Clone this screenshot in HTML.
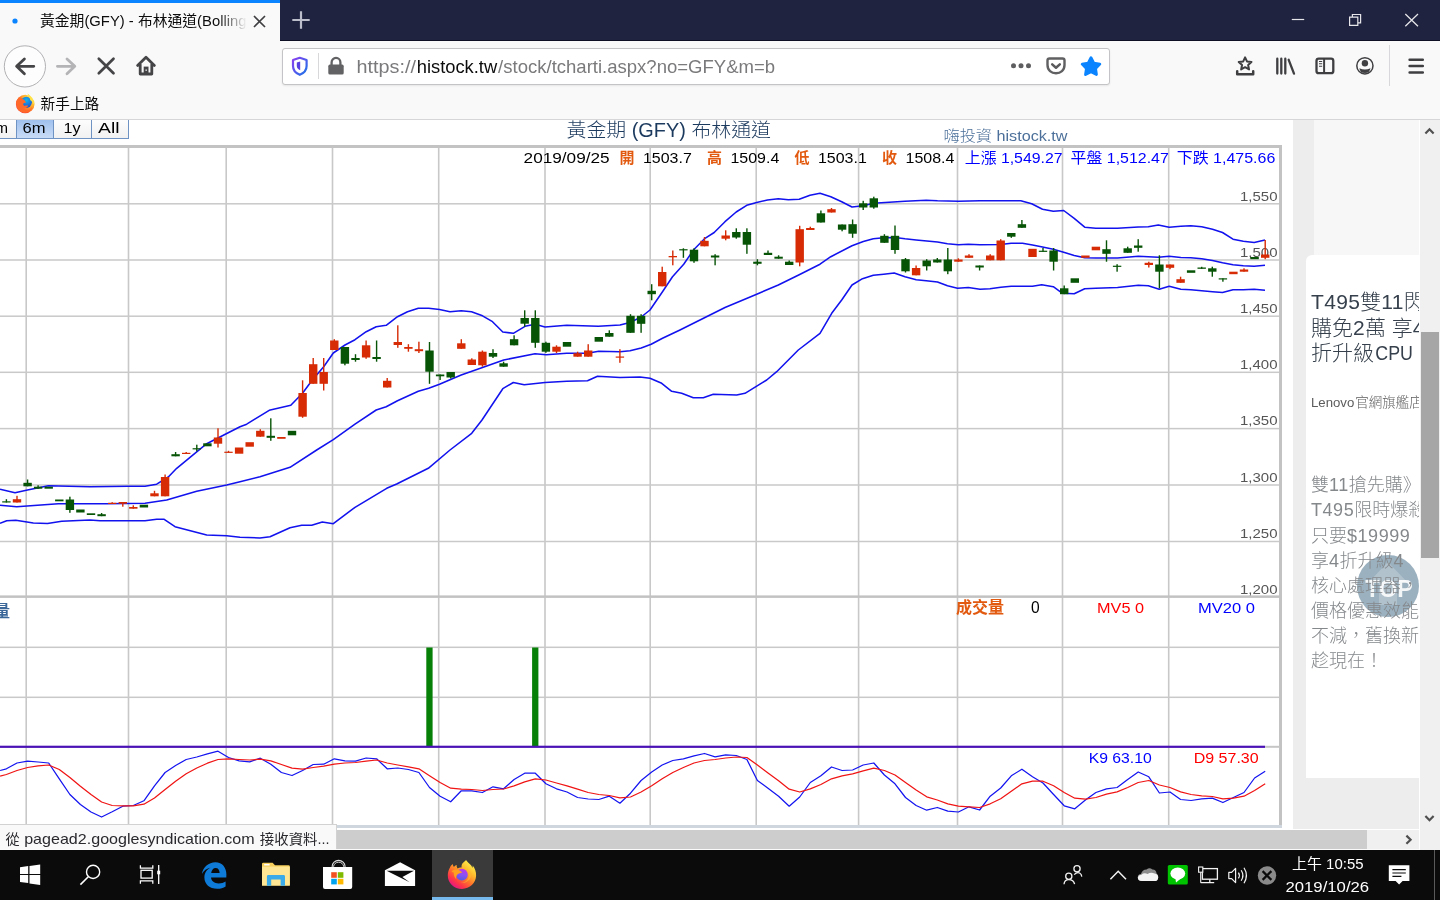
<!DOCTYPE html>
<html lang="zh-Hant">
<head>
<meta charset="utf-8">
<title>黃金期(GFY) - 布林通道(Bollinger Band)</title>
<style>
html,body{margin:0;padding:0;}
body{width:1440px;height:900px;overflow:hidden;position:relative;background:#fff;font-family:"Liberation Sans","Noto Sans CJK TC",sans-serif;}
.abs{position:absolute;}
#tabbar{left:0;top:0;width:1440px;height:41px;background:#20233f;box-shadow:inset 0 -1px 0 #0e0f24;}
#tab{left:0;top:0;width:280px;height:41px;background:#f9f9fa;}
#tabline{left:0;top:0;width:280px;height:3px;background:#0a84ff;}
#nav{left:0;top:41px;width:1440px;height:78px;background:#f9f9fa;}
#navborder{left:0;top:119px;width:1440px;height:1px;background:#d6d6d8;}
#urlbar{left:282px;top:48px;width:826px;height:35px;background:#fff;border:1px solid #c4c4c6;border-radius:3px;box-shadow:0 1px 2px rgba(0,0,0,.08);}
#page{left:0;top:120px;width:1419px;height:709px;overflow:hidden;background:#fff;}
#side{left:1293px;top:0;width:126px;height:709px;background:#ededed;}
#sidetop{left:1314px;top:0;width:105px;height:135px;background:#f7f7f7;}
#ad{left:1306px;top:135px;width:120px;height:523px;background:#fff;border-top-left-radius:6px;}
#vscroll{left:1419px;top:120px;width:21px;height:730px;background:#f0f0f0;border-left:1px solid #fff;box-sizing:border-box;}
#vthumb{left:1420.5px;top:332px;width:18.5px;height:226px;background:#a6a6a6;}
#hscroll{left:0;top:829px;width:1419px;height:21px;background:#f0f0f0;border-top:1px solid #fff;border-bottom:1px solid #fafafa;box-sizing:border-box;}
#hthumb{left:0;top:830px;width:1367px;height:19px;background:#cdcdcd;}
#status{left:0;top:824px;width:335.5px;height:24px;background:#f9f9fa;border-top:1px solid #d2d2d2;border-right:1px solid #d2d2d2;}
#taskbar{left:0;top:850px;width:1440px;height:50px;background:#0b0b0b;}
#fftile{left:432px;top:850px;width:61px;height:50px;background:#3a3a3a;}
#ffline{left:432px;top:897px;width:61px;height:3px;background:#76b9ed;}
.btn{position:absolute;top:0;height:19px;border-right:1.5px solid #6f93c2;border-bottom:1.5px solid #6f93c2;background:linear-gradient(#fdfdfd,#f1f1f1);box-sizing:border-box;}
.btn.sel{background:linear-gradient(#9fc0ee,#c9dcf6);}
#top{left:1356.5px;top:435px;width:62px;height:62px;border-radius:31px;background:rgba(120,150,168,.74);}
svg text{font-family:"Liberation Sans","Noto Sans CJK TC",sans-serif;}
</style>
</head>
<body>
<div id="page" class="abs">
  <div id="side" class="abs"></div>
  <div id="sidetop" class="abs"></div>
  <div id="ad" class="abs"></div>
  <div class="btn" style="left:-23px;width:39.5px;border-left:1.5px solid #6f93c2"></div>
  <div class="btn sel" style="left:16.5px;width:37.5px"></div>
  <div class="btn" style="left:54px;width:37.5px"></div>
  <div class="btn" style="left:91.5px;width:37.5px"></div>
  <div id="top" class="abs"></div>
  <svg class="abs" style="left:1356.5px;top:435px" width="62" height="62" viewBox="0 0 62 62">
    <path d="M31 7 L50 27 H40 V50 H22 V27 H12 Z" fill="rgba(255,255,255,.22)"/>
    <text x="32" y="42.2" text-anchor="middle" font-size="23" font-weight="700" fill="#fff" fill-opacity="0.88" textLength="47.5" lengthAdjust="spacingAndGlyphs">TOP</text>
  </svg>
  <svg class="abs" style="left:0;top:-120px" width="1419" height="900" viewBox="0 0 1419 900">
<rect x="25.4" y="147" width="1.6" height="679" fill="#c8c8c8"/>
<rect x="127.7" y="147" width="1.6" height="679" fill="#c8c8c8"/>
<rect x="225.4" y="147" width="1.6" height="679" fill="#c8c8c8"/>
<rect x="331.7" y="147" width="1.6" height="679" fill="#c8c8c8"/>
<rect x="437.9" y="147" width="1.6" height="679" fill="#c8c8c8"/>
<rect x="544.2" y="147" width="1.6" height="679" fill="#c8c8c8"/>
<rect x="649.4" y="147" width="1.6" height="679" fill="#c8c8c8"/>
<rect x="755.4" y="147" width="1.6" height="679" fill="#c8c8c8"/>
<rect x="857.8" y="147" width="1.6" height="679" fill="#c8c8c8"/>
<rect x="956.7" y="147" width="1.6" height="679" fill="#c8c8c8"/>
<rect x="1061.7" y="147" width="1.6" height="679" fill="#c8c8c8"/>
<rect x="1167.9" y="147" width="1.6" height="679" fill="#c8c8c8"/>
<rect x="0" y="203.05" width="1280" height="1.5" fill="#c9c9c9"/>
<rect x="0" y="259.25" width="1280" height="1.5" fill="#c9c9c9"/>
<rect x="0" y="315.45" width="1280" height="1.5" fill="#c9c9c9"/>
<rect x="0" y="371.55" width="1280" height="1.5" fill="#c9c9c9"/>
<rect x="0" y="427.85" width="1280" height="1.5" fill="#c9c9c9"/>
<rect x="0" y="484.25" width="1280" height="1.5" fill="#c9c9c9"/>
<rect x="0" y="540.75" width="1280" height="1.5" fill="#c9c9c9"/>
<rect x="0" y="595.4" width="1280" height="2.5" fill="#c2c2c2"/>
<rect x="0" y="646.55" width="1280" height="1.5" fill="#c9c9c9"/>
<rect x="0" y="696.55" width="1280" height="1.5" fill="#c9c9c9"/>
<rect x="0" y="145" width="1282" height="3" fill="#c3c3c3"/>
<rect x="1279" y="145" width="3" height="683" fill="#c3c3c3"/>
<rect x="0" y="825" width="1282" height="3" fill="#cfd6de"/>
<rect x="1265" y="745.8" width="15" height="2" fill="#c6c6c6"/>
<rect x="426.3" y="647.5" width="6.3" height="99" fill="#078007"/>
<rect x="532.1" y="647.5" width="6.3" height="99" fill="#078007"/>
<rect x="0" y="745.7" width="1265" height="2.2" fill="#4a12b4"/>
<text x="1277.5" y="200.60000000000002" font-size="13.5" fill="#555" textLength="37.5" lengthAdjust="spacingAndGlyphs" text-anchor="end">1,550</text>
<text x="1277.5" y="256.8" font-size="13.5" fill="#555" textLength="37.5" lengthAdjust="spacingAndGlyphs" text-anchor="end">1,500</text>
<text x="1277.5" y="313.0" font-size="13.5" fill="#555" textLength="37.5" lengthAdjust="spacingAndGlyphs" text-anchor="end">1,450</text>
<text x="1277.5" y="369.1" font-size="13.5" fill="#555" textLength="37.5" lengthAdjust="spacingAndGlyphs" text-anchor="end">1,400</text>
<text x="1277.5" y="425.40000000000003" font-size="13.5" fill="#555" textLength="37.5" lengthAdjust="spacingAndGlyphs" text-anchor="end">1,350</text>
<text x="1277.5" y="481.8" font-size="13.5" fill="#555" textLength="37.5" lengthAdjust="spacingAndGlyphs" text-anchor="end">1,300</text>
<text x="1277.5" y="538.3" font-size="13.5" fill="#555" textLength="37.5" lengthAdjust="spacingAndGlyphs" text-anchor="end">1,250</text>
<text x="1277.5" y="594.3" font-size="13.5" fill="#555" textLength="37.5" lengthAdjust="spacingAndGlyphs" text-anchor="end">1,200</text>
<polyline points="0.0,489.2 15.0,492.8 27.5,490.0 48.3,485.8 90.0,486.7 128.0,486.2 145.0,486.2 156.7,484.2 168.3,477.0 176.7,468.3 206.7,443.7 240.0,426.7 246.7,424.2 269.2,410.3 290.8,405.3 302.5,393.3 312.5,379.7 323.7,366.7 333.3,353.0 345.0,345.0 355.0,339.7 366.2,331.7 376.2,326.7 386.2,325.3 397.5,316.7 407.5,311.7 418.3,308.3 428.7,308.3 439.5,309.5 450.0,311.7 461.2,310.8 471.5,311.7 482.5,315.8 492.5,321.7 502.8,332.0 513.3,333.3 525.0,326.3 535.0,324.2 545.0,327.0 566.7,325.3 598.3,326.2 620.0,325.0 630.0,322.5 641.2,317.0 650.0,310.0 662.5,291.7 672.5,276.7 683.7,264.2 693.7,249.7 705.0,238.3 714.2,232.5 725.0,221.7 736.2,212.0 746.7,205.3 756.7,202.5 767.5,200.0 778.3,198.7 788.3,199.7 799.2,199.2 810.0,195.3 820.0,193.3 830.8,196.7 841.7,201.7 852.0,207.0 863.3,205.8 873.3,203.3 905.0,201.3 926.2,200.3 937.5,200.8 958.3,201.2 980.0,200.7 1020.8,200.7 1031.7,203.8 1042.5,209.2 1053.3,211.2 1063.7,210.5 1074.2,218.3 1084.7,227.2 1095.8,228.3 1117.5,228.3 1138.3,227.0 1148.3,226.7 1158.3,225.0 1169.2,227.2 1180.8,226.3 1190.8,225.8 1201.7,226.7 1212.5,229.2 1222.5,232.5 1233.0,239.2 1243.3,241.3 1254.2,242.5 1265.0,240.0" fill="none" stroke="#1212ee" stroke-width="1.55" stroke-linejoin="round"/>
<polyline points="0.0,505.3 16.7,506.7 58.3,503.7 106.7,503.7 145.0,503.3 166.7,500.0 196.7,491.3 226.7,485.0 240.0,481.7 260.0,476.7 290.0,467.3 316.7,450.0 333.3,439.7 355.0,424.2 376.2,410.0 386.2,406.7 397.5,400.8 418.3,391.3 428.7,388.3 439.5,384.2 450.0,379.7 461.2,375.0 482.5,367.5 503.7,360.0 535.0,353.7 546.2,354.7 566.7,353.3 587.5,353.3 598.7,351.3 620.0,351.7 630.0,350.8 641.2,348.0 651.2,344.2 662.5,338.3 680.0,330.0 700.0,320.0 725.0,307.5 756.7,294.2 778.3,285.0 799.2,274.7 820.0,264.2 830.8,256.7 852.0,245.8 863.3,241.5 873.3,238.7 883.7,237.8 895.0,237.5 905.0,238.8 916.2,240.0 937.5,242.0 947.5,243.7 958.3,244.7 968.3,244.2 980.0,244.7 1000.8,244.5 1011.2,243.3 1022.5,243.3 1032.5,245.0 1042.5,247.0 1053.3,249.2 1063.7,252.2 1074.2,255.5 1084.7,257.8 1095.8,258.0 1117.5,258.0 1138.3,256.3 1148.3,256.7 1158.3,257.2 1169.2,256.3 1180.8,257.5 1190.8,257.8 1201.7,258.7 1212.5,260.5 1222.5,262.8 1233.0,264.7 1243.3,265.8 1254.2,266.2 1265.0,265.3" fill="none" stroke="#1212ee" stroke-width="1.55" stroke-linejoin="round"/>
<polyline points="0.0,523.3 6.7,520.8 15.8,520.3 33.3,523.0 47.5,523.5 61.7,521.3 90.0,520.0 100.0,520.8 145.0,520.8 156.7,519.3 164.2,519.3 175.0,526.7 206.7,535.0 226.7,535.7 240.0,537.2 260.0,538.0 270.0,536.7 290.0,527.7 301.7,525.3 311.7,525.3 322.3,522.0 333.3,523.7 355.0,507.3 386.7,488.3 396.7,484.0 428.3,468.3 450.0,450.0 471.7,433.3 482.0,420.0 502.8,388.7 513.3,382.5 524.2,384.7 545.0,382.5 566.7,381.3 587.5,380.8 597.5,376.3 620.0,377.5 640.0,377.0 650.0,378.3 661.7,383.3 671.7,391.3 681.7,393.3 693.3,397.7 703.3,397.7 713.3,394.3 736.7,395.0 745.0,393.3 766.7,380.0 776.7,371.7 798.3,350.0 820.0,333.3 831.7,313.3 841.7,300.0 852.0,285.0 862.5,278.7 873.3,275.3 883.7,274.2 894.2,273.0 905.0,276.7 916.2,279.7 926.2,280.8 937.5,282.0 947.5,285.8 957.5,288.3 968.3,287.5 980.0,289.2 990.0,288.7 1000.8,287.2 1011.2,286.2 1032.5,286.2 1041.7,284.7 1053.3,286.7 1062.5,293.3 1074.2,293.7 1084.7,288.7 1095.8,288.3 1117.5,287.5 1138.3,285.3 1148.3,285.8 1159.2,289.2 1169.2,286.2 1180.8,289.2 1190.8,289.7 1201.7,290.8 1212.5,291.7 1222.5,292.5 1233.0,289.7 1243.3,289.7 1254.2,289.2 1265.0,290.3" fill="none" stroke="#1212ee" stroke-width="1.55" stroke-linejoin="round"/>
<rect x="5.7" y="499.2" width="1.4" height="3.3" fill="#075407"/>
<rect x="2.2" y="501.3" width="8.4" height="1.2" fill="#075407"/>
<rect x="16.3" y="495.8" width="1.4" height="6.7" fill="#d62b05"/>
<rect x="12.8" y="499.2" width="8.4" height="3.3" fill="#d62b05"/>
<rect x="26.9" y="479.5" width="1.4" height="6.8" fill="#075407"/>
<rect x="23.4" y="482.8" width="8.4" height="3.5" fill="#075407"/>
<rect x="37.4" y="485.3" width="1.4" height="3.4" fill="#075407"/>
<rect x="33.9" y="486.7" width="8.4" height="2.0" fill="#075407"/>
<rect x="44.5" y="486.7" width="8.4" height="2.0" fill="#075407"/>
<rect x="55.1" y="499.5" width="8.4" height="1.8" fill="#075407"/>
<rect x="69.2" y="496.7" width="1.4" height="16.1" fill="#075407"/>
<rect x="65.7" y="499.5" width="8.4" height="10.5" fill="#075407"/>
<rect x="76.2" y="509.5" width="8.4" height="3.0" fill="#075407"/>
<rect x="86.8" y="513.3" width="8.4" height="1.7" fill="#075407"/>
<rect x="100.9" y="513.0" width="1.4" height="3.2" fill="#075407"/>
<rect x="97.4" y="514.2" width="8.4" height="2.0" fill="#075407"/>
<rect x="111.5" y="502.2" width="1.4" height="1.6" fill="#d62b05"/>
<rect x="108.0" y="502.8" width="8.4" height="1.2" fill="#d62b05"/>
<rect x="122.1" y="502.0" width="1.4" height="4.7" fill="#d62b05"/>
<rect x="118.6" y="502.0" width="8.4" height="1.7" fill="#d62b05"/>
<rect x="132.6" y="505.3" width="1.4" height="3.4" fill="#d62b05"/>
<rect x="129.1" y="507.0" width="8.4" height="1.7" fill="#d62b05"/>
<rect x="139.7" y="504.7" width="8.4" height="2.8" fill="#075407"/>
<rect x="153.8" y="490.8" width="1.4" height="5.5" fill="#d62b05"/>
<rect x="150.3" y="493.3" width="8.4" height="3.0" fill="#d62b05"/>
<rect x="164.4" y="474.5" width="1.4" height="21.8" fill="#d62b05"/>
<rect x="160.9" y="477.0" width="8.4" height="19.3" fill="#d62b05"/>
<rect x="174.9" y="452.0" width="1.4" height="4.3" fill="#075407"/>
<rect x="171.4" y="454.2" width="8.4" height="2.1" fill="#075407"/>
<rect x="185.5" y="452.0" width="1.4" height="1.8" fill="#d62b05"/>
<rect x="182.0" y="452.8" width="8.4" height="1.2" fill="#d62b05"/>
<rect x="196.1" y="444.7" width="1.4" height="6.6" fill="#075407"/>
<rect x="192.6" y="448.2" width="8.4" height="1.2" fill="#075407"/>
<rect x="203.2" y="443.3" width="8.4" height="3.0" fill="#075407"/>
<rect x="217.3" y="428.3" width="1.4" height="19.2" fill="#d62b05"/>
<rect x="213.8" y="437.5" width="8.4" height="6.2" fill="#d62b05"/>
<rect x="227.8" y="450.8" width="1.4" height="1.9" fill="#d62b05"/>
<rect x="224.3" y="451.7" width="8.4" height="1.2" fill="#d62b05"/>
<rect x="234.9" y="447.5" width="8.4" height="6.2" fill="#d62b05"/>
<rect x="245.5" y="442.2" width="8.4" height="4.5" fill="#d62b05"/>
<rect x="259.6" y="429.2" width="1.4" height="7.5" fill="#d62b05"/>
<rect x="256.1" y="430.8" width="8.4" height="5.9" fill="#d62b05"/>
<rect x="270.1" y="418.3" width="1.4" height="22.5" fill="#075407"/>
<rect x="266.6" y="435.8" width="8.4" height="2.0" fill="#075407"/>
<rect x="277.2" y="437.0" width="8.4" height="1.8" fill="#d62b05"/>
<rect x="287.8" y="430.8" width="8.4" height="4.5" fill="#075407"/>
<rect x="301.9" y="380.3" width="1.4" height="37.5" fill="#d62b05"/>
<rect x="298.4" y="393.0" width="8.4" height="23.7" fill="#d62b05"/>
<rect x="312.5" y="358.0" width="1.4" height="25.8" fill="#d62b05"/>
<rect x="309.0" y="364.2" width="8.4" height="19.6" fill="#d62b05"/>
<rect x="323.0" y="358.0" width="1.4" height="32.5" fill="#d62b05"/>
<rect x="319.5" y="372.0" width="8.4" height="11.8" fill="#d62b05"/>
<rect x="333.6" y="339.2" width="1.4" height="10.8" fill="#d62b05"/>
<rect x="330.1" y="340.5" width="8.4" height="9.5" fill="#d62b05"/>
<rect x="344.2" y="347.0" width="1.4" height="18.3" fill="#075407"/>
<rect x="340.7" y="347.0" width="8.4" height="16.7" fill="#075407"/>
<rect x="354.8" y="354.2" width="1.4" height="7.5" fill="#075407"/>
<rect x="351.3" y="358.0" width="8.4" height="2.0" fill="#075407"/>
<rect x="365.4" y="340.5" width="1.4" height="18.3" fill="#d62b05"/>
<rect x="361.9" y="345.3" width="8.4" height="12.2" fill="#d62b05"/>
<rect x="375.9" y="340.5" width="1.4" height="21.2" fill="#075407"/>
<rect x="372.4" y="357.0" width="8.4" height="2.0" fill="#075407"/>
<rect x="386.5" y="378.0" width="1.4" height="9.5" fill="#d62b05"/>
<rect x="383.0" y="380.8" width="8.4" height="6.7" fill="#d62b05"/>
<rect x="397.1" y="325.3" width="1.4" height="22.5" fill="#d62b05"/>
<rect x="393.6" y="342.0" width="8.4" height="3.0" fill="#d62b05"/>
<rect x="407.7" y="344.2" width="1.4" height="7.5" fill="#d62b05"/>
<rect x="404.2" y="347.0" width="8.4" height="1.8" fill="#d62b05"/>
<rect x="418.2" y="341.7" width="1.4" height="11.3" fill="#d62b05"/>
<rect x="414.7" y="349.2" width="8.4" height="2.0" fill="#d62b05"/>
<rect x="428.8" y="342.0" width="1.4" height="41.8" fill="#075407"/>
<rect x="425.3" y="350.5" width="8.4" height="21.2" fill="#075407"/>
<rect x="439.4" y="374.5" width="1.4" height="5.5" fill="#075407"/>
<rect x="435.9" y="374.5" width="8.4" height="1.8" fill="#075407"/>
<rect x="450.0" y="372.0" width="1.4" height="6.5" fill="#075407"/>
<rect x="446.5" y="372.0" width="8.4" height="5.5" fill="#075407"/>
<rect x="460.6" y="339.2" width="1.4" height="9.6" fill="#d62b05"/>
<rect x="457.1" y="343.3" width="8.4" height="5.5" fill="#d62b05"/>
<rect x="471.1" y="358.3" width="1.4" height="6.7" fill="#d62b05"/>
<rect x="467.6" y="359.5" width="8.4" height="5.5" fill="#d62b05"/>
<rect x="481.7" y="350.5" width="1.4" height="16.2" fill="#d62b05"/>
<rect x="478.2" y="351.7" width="8.4" height="13.6" fill="#d62b05"/>
<rect x="492.3" y="349.2" width="1.4" height="8.8" fill="#075407"/>
<rect x="488.8" y="353.0" width="8.4" height="3.7" fill="#075407"/>
<rect x="502.9" y="361.7" width="1.4" height="5.0" fill="#075407"/>
<rect x="499.4" y="363.3" width="8.4" height="3.4" fill="#075407"/>
<rect x="513.4" y="335.3" width="1.4" height="10.0" fill="#075407"/>
<rect x="509.9" y="339.2" width="8.4" height="6.1" fill="#075407"/>
<rect x="524.0" y="310.3" width="1.4" height="16.4" fill="#075407"/>
<rect x="520.5" y="318.0" width="8.4" height="5.7" fill="#075407"/>
<rect x="534.6" y="310.3" width="1.4" height="37.5" fill="#075407"/>
<rect x="531.1" y="318.0" width="8.4" height="24.8" fill="#075407"/>
<rect x="545.2" y="341.7" width="1.4" height="11.1" fill="#075407"/>
<rect x="541.7" y="342.8" width="8.4" height="8.9" fill="#075407"/>
<rect x="555.8" y="345.3" width="1.4" height="7.7" fill="#d62b05"/>
<rect x="552.3" y="346.7" width="8.4" height="5.0" fill="#d62b05"/>
<rect x="562.8" y="342.0" width="8.4" height="4.7" fill="#075407"/>
<rect x="576.9" y="351.7" width="1.4" height="5.0" fill="#d62b05"/>
<rect x="573.4" y="353.3" width="8.4" height="3.4" fill="#d62b05"/>
<rect x="587.5" y="344.2" width="1.4" height="12.5" fill="#d62b05"/>
<rect x="584.0" y="350.5" width="8.4" height="6.2" fill="#d62b05"/>
<rect x="594.6" y="337.0" width="8.4" height="4.7" fill="#075407"/>
<rect x="608.6" y="330.3" width="1.4" height="6.4" fill="#075407"/>
<rect x="605.1" y="333.0" width="8.4" height="3.7" fill="#075407"/>
<rect x="619.2" y="349.2" width="1.4" height="13.6" fill="#d62b05"/>
<rect x="615.7" y="356.5" width="8.4" height="1.2" fill="#d62b05"/>
<rect x="629.8" y="314.2" width="1.4" height="18.6" fill="#075407"/>
<rect x="626.3" y="315.8" width="8.4" height="17.0" fill="#075407"/>
<rect x="640.4" y="314.2" width="1.4" height="18.6" fill="#075407"/>
<rect x="636.9" y="315.8" width="8.4" height="8.0" fill="#075407"/>
<rect x="651.0" y="284.2" width="1.4" height="16.1" fill="#075407"/>
<rect x="647.5" y="290.8" width="8.4" height="3.4" fill="#075407"/>
<rect x="661.5" y="266.7" width="1.4" height="19.6" fill="#d62b05"/>
<rect x="658.0" y="272.0" width="8.4" height="14.3" fill="#d62b05"/>
<rect x="672.1" y="250.5" width="1.4" height="14.8" fill="#d62b05"/>
<rect x="668.6" y="256.0" width="8.4" height="1.3" fill="#d62b05"/>
<rect x="682.7" y="248.3" width="1.4" height="9.5" fill="#075407"/>
<rect x="679.2" y="249.2" width="8.4" height="1.2" fill="#075407"/>
<rect x="693.3" y="248.3" width="1.4" height="14.5" fill="#075407"/>
<rect x="689.8" y="249.7" width="8.4" height="11.6" fill="#075407"/>
<rect x="703.8" y="237.0" width="1.4" height="9.3" fill="#d62b05"/>
<rect x="700.3" y="240.8" width="8.4" height="5.5" fill="#d62b05"/>
<rect x="714.4" y="254.2" width="1.4" height="11.1" fill="#075407"/>
<rect x="710.9" y="255.5" width="8.4" height="2.0" fill="#075407"/>
<rect x="725.0" y="230.3" width="1.4" height="10.0" fill="#d62b05"/>
<rect x="721.5" y="235.5" width="8.4" height="3.2" fill="#d62b05"/>
<rect x="735.6" y="228.3" width="1.4" height="10.4" fill="#075407"/>
<rect x="732.1" y="232.0" width="8.4" height="5.5" fill="#075407"/>
<rect x="746.2" y="228.3" width="1.4" height="25.5" fill="#075407"/>
<rect x="742.7" y="232.0" width="8.4" height="12.7" fill="#075407"/>
<rect x="756.7" y="259.2" width="1.4" height="6.1" fill="#075407"/>
<rect x="753.2" y="261.7" width="8.4" height="2.1" fill="#075407"/>
<rect x="767.3" y="250.5" width="1.4" height="4.5" fill="#075407"/>
<rect x="763.8" y="252.8" width="8.4" height="2.2" fill="#075407"/>
<rect x="777.9" y="255.3" width="1.4" height="3.4" fill="#075407"/>
<rect x="774.4" y="256.7" width="8.4" height="2.0" fill="#075407"/>
<rect x="788.5" y="260.5" width="1.4" height="4.5" fill="#075407"/>
<rect x="785.0" y="261.7" width="8.4" height="3.3" fill="#075407"/>
<rect x="799.0" y="225.8" width="1.4" height="40.5" fill="#d62b05"/>
<rect x="795.5" y="229.2" width="8.4" height="33.3" fill="#d62b05"/>
<rect x="809.6" y="226.7" width="1.4" height="3.3" fill="#d62b05"/>
<rect x="806.1" y="228.0" width="8.4" height="2.0" fill="#d62b05"/>
<rect x="820.2" y="210.5" width="1.4" height="12.0" fill="#075407"/>
<rect x="816.7" y="213.3" width="8.4" height="9.2" fill="#075407"/>
<rect x="830.8" y="208.0" width="1.4" height="4.5" fill="#d62b05"/>
<rect x="827.3" y="209.2" width="8.4" height="3.3" fill="#d62b05"/>
<rect x="841.4" y="224.5" width="1.4" height="6.8" fill="#075407"/>
<rect x="837.9" y="224.5" width="8.4" height="5.2" fill="#075407"/>
<rect x="851.9" y="219.5" width="1.4" height="18.3" fill="#075407"/>
<rect x="848.4" y="224.2" width="8.4" height="9.5" fill="#075407"/>
<rect x="862.5" y="200.8" width="1.4" height="9.2" fill="#075407"/>
<rect x="859.0" y="203.3" width="8.4" height="4.2" fill="#075407"/>
<rect x="873.1" y="196.7" width="1.4" height="12.0" fill="#075407"/>
<rect x="869.6" y="198.3" width="8.4" height="9.2" fill="#075407"/>
<rect x="883.7" y="234.2" width="1.4" height="8.6" fill="#075407"/>
<rect x="880.2" y="235.8" width="8.4" height="7.0" fill="#075407"/>
<rect x="894.3" y="225.5" width="1.4" height="28.3" fill="#075407"/>
<rect x="890.8" y="235.8" width="8.4" height="14.2" fill="#075407"/>
<rect x="904.8" y="258.0" width="1.4" height="14.5" fill="#075407"/>
<rect x="901.3" y="259.2" width="8.4" height="12.1" fill="#075407"/>
<rect x="915.4" y="265.5" width="1.4" height="9.8" fill="#d62b05"/>
<rect x="911.9" y="268.0" width="8.4" height="7.3" fill="#d62b05"/>
<rect x="926.0" y="259.2" width="1.4" height="11.3" fill="#075407"/>
<rect x="922.5" y="260.5" width="8.4" height="5.8" fill="#075407"/>
<rect x="936.6" y="258.0" width="1.4" height="4.5" fill="#075407"/>
<rect x="933.1" y="259.5" width="8.4" height="3.0" fill="#075407"/>
<rect x="947.1" y="248.0" width="1.4" height="26.2" fill="#075407"/>
<rect x="943.6" y="259.5" width="8.4" height="11.8" fill="#075407"/>
<rect x="957.7" y="258.3" width="1.4" height="3.4" fill="#d62b05"/>
<rect x="954.2" y="259.5" width="8.4" height="2.2" fill="#d62b05"/>
<rect x="968.3" y="254.2" width="1.4" height="3.6" fill="#d62b05"/>
<rect x="964.8" y="255.5" width="8.4" height="2.3" fill="#d62b05"/>
<rect x="978.9" y="265.5" width="1.4" height="5.0" fill="#075407"/>
<rect x="975.4" y="265.5" width="8.4" height="2.0" fill="#075407"/>
<rect x="989.5" y="254.2" width="1.4" height="6.1" fill="#d62b05"/>
<rect x="986.0" y="255.5" width="8.4" height="4.8" fill="#d62b05"/>
<rect x="1000.0" y="239.2" width="1.4" height="21.1" fill="#d62b05"/>
<rect x="996.5" y="240.5" width="8.4" height="19.8" fill="#d62b05"/>
<rect x="1010.6" y="233.0" width="1.4" height="4.8" fill="#075407"/>
<rect x="1007.1" y="233.0" width="8.4" height="3.7" fill="#075407"/>
<rect x="1021.2" y="220.0" width="1.4" height="7.8" fill="#075407"/>
<rect x="1017.7" y="224.2" width="8.4" height="3.6" fill="#075407"/>
<rect x="1028.3" y="248.8" width="8.4" height="8.2" fill="#d62b05"/>
<rect x="1042.3" y="248.0" width="1.4" height="3.7" fill="#075407"/>
<rect x="1038.8" y="250.7" width="8.4" height="1.2" fill="#075407"/>
<rect x="1052.9" y="248.0" width="1.4" height="22.5" fill="#075407"/>
<rect x="1049.4" y="250.5" width="8.4" height="11.2" fill="#075407"/>
<rect x="1063.5" y="285.5" width="1.4" height="8.7" fill="#075407"/>
<rect x="1060.0" y="288.3" width="8.4" height="5.9" fill="#075407"/>
<rect x="1070.6" y="278.3" width="8.4" height="4.5" fill="#075407"/>
<rect x="1081.2" y="255.5" width="8.4" height="2.3" fill="#d62b05"/>
<rect x="1091.7" y="246.7" width="8.4" height="3.6" fill="#d62b05"/>
<rect x="1105.8" y="240.3" width="1.4" height="21.4" fill="#075407"/>
<rect x="1102.3" y="249.2" width="8.4" height="4.6" fill="#075407"/>
<rect x="1116.4" y="264.2" width="1.4" height="7.5" fill="#075407"/>
<rect x="1112.9" y="265.7" width="8.4" height="1.2" fill="#075407"/>
<rect x="1127.0" y="246.7" width="1.4" height="6.1" fill="#075407"/>
<rect x="1123.5" y="248.3" width="8.4" height="4.5" fill="#075407"/>
<rect x="1137.5" y="239.2" width="1.4" height="12.5" fill="#075407"/>
<rect x="1134.0" y="245.5" width="8.4" height="2.3" fill="#075407"/>
<rect x="1148.1" y="261.7" width="1.4" height="5.8" fill="#d62b05"/>
<rect x="1144.6" y="262.8" width="8.4" height="2.2" fill="#d62b05"/>
<rect x="1158.7" y="255.3" width="1.4" height="33.0" fill="#075407"/>
<rect x="1155.2" y="264.5" width="8.4" height="7.2" fill="#075407"/>
<rect x="1169.3" y="264.5" width="1.4" height="4.7" fill="#d62b05"/>
<rect x="1165.8" y="264.5" width="8.4" height="3.3" fill="#d62b05"/>
<rect x="1179.9" y="276.7" width="1.4" height="6.1" fill="#d62b05"/>
<rect x="1176.4" y="279.2" width="8.4" height="3.6" fill="#d62b05"/>
<rect x="1186.9" y="270.3" width="8.4" height="2.5" fill="#075407"/>
<rect x="1201.0" y="266.8" width="1.4" height="2.0" fill="#075407"/>
<rect x="1197.5" y="267.5" width="8.4" height="1.3" fill="#075407"/>
<rect x="1211.6" y="266.7" width="1.4" height="10.0" fill="#075407"/>
<rect x="1208.1" y="268.3" width="8.4" height="3.4" fill="#075407"/>
<rect x="1222.2" y="278.3" width="1.4" height="3.4" fill="#075407"/>
<rect x="1218.7" y="278.3" width="8.4" height="1.2" fill="#075407"/>
<rect x="1229.2" y="271.7" width="8.4" height="2.5" fill="#d62b05"/>
<rect x="1243.3" y="268.3" width="1.4" height="3.4" fill="#d62b05"/>
<rect x="1239.8" y="269.5" width="8.4" height="2.2" fill="#d62b05"/>
<rect x="1250.4" y="257.0" width="8.4" height="2.2" fill="#075407"/>
<rect x="1264.5" y="240.0" width="1.4" height="19.2" fill="#d62b05"/>
<rect x="1261.0" y="254.5" width="8.4" height="3.3" fill="#d62b05"/>
<polyline points="0.1,770.5 6.4,768.8 17.0,763.0 27.6,761.2 38.1,762.0 48.7,763.0 59.3,778.8 69.9,794.5 80.4,804.5 91.0,812.0 101.6,817.0 112.2,811.8 122.8,806.2 133.3,805.5 143.9,800.8 154.5,785.8 165.1,772.5 175.6,765.5 186.2,759.5 196.8,757.0 207.4,753.8 218.0,751.2 228.5,757.5 239.1,760.8 249.7,761.8 260.3,758.2 270.8,764.2 281.4,772.5 292.0,775.5 302.6,770.5 313.2,764.5 323.7,764.2 334.3,758.8 344.9,760.8 355.5,761.2 366.1,758.0 376.6,758.8 387.2,768.8 397.8,768.0 408.4,769.5 418.9,772.5 429.5,787.5 440.1,796.2 450.7,801.8 461.3,790.8 471.8,790.8 482.4,792.5 493.0,786.8 503.6,788.8 514.1,779.5 524.7,773.2 535.3,773.2 545.9,783.8 556.5,788.8 567.0,792.0 577.6,797.5 588.2,799.0 598.8,799.5 609.3,796.2 619.9,803.2 630.5,793.2 641.1,780.5 651.7,772.0 662.2,765.0 672.8,760.5 683.4,758.8 694.0,755.8 704.5,753.5 715.1,756.8 725.7,754.8 736.3,755.5 746.9,759.5 757.4,780.5 768.0,788.2 778.6,796.2 789.2,806.2 799.7,797.0 810.3,782.5 820.9,775.8 831.5,767.0 842.1,770.5 852.6,770.0 863.2,765.0 873.8,763.0 884.4,775.0 895.0,783.8 905.5,797.5 916.1,805.5 926.7,810.2 937.3,807.5 947.8,811.2 958.4,812.0 969.0,806.8 979.6,810.0 990.2,796.2 1000.7,788.0 1011.3,775.8 1021.9,769.2 1032.5,776.8 1043.0,783.0 1053.6,794.5 1064.2,805.8 1074.8,808.8 1085.4,800.0 1095.9,792.5 1106.5,788.8 1117.1,787.5 1127.7,779.5 1138.2,772.0 1148.8,776.8 1159.4,793.0 1170.0,792.0 1180.6,799.5 1191.1,800.5 1201.7,798.8 1212.3,798.2 1222.9,802.5 1233.4,797.5 1244.0,792.5 1254.6,778.0 1265.2,771.2" fill="none" stroke="#1414f0" stroke-width="1.25" stroke-linejoin="round"/>
<polyline points="0.1,776.2 6.4,774.5 17.0,770.5 27.6,767.5 38.1,765.8 48.7,765.0 59.3,769.5 69.9,777.5 80.4,786.2 91.0,794.5 101.6,802.0 112.2,805.5 122.8,805.8 133.3,805.8 143.9,804.2 154.5,798.0 165.1,789.5 175.6,781.2 186.2,773.8 196.8,768.0 207.4,763.2 218.0,759.5 228.5,758.8 239.1,759.5 249.7,760.0 260.3,759.2 270.8,760.8 281.4,764.5 292.0,768.2 302.6,769.2 313.2,767.5 323.7,766.2 334.3,764.2 344.9,763.0 355.5,762.5 366.1,761.2 376.6,760.0 387.2,763.0 397.8,765.0 408.4,766.8 418.9,768.8 429.5,775.8 440.1,782.5 450.7,788.2 461.3,789.2 471.8,789.5 482.4,790.5 493.0,789.5 503.6,789.0 514.1,785.8 524.7,781.8 535.3,778.8 545.9,780.0 556.5,783.0 567.0,785.8 577.6,789.2 588.2,792.5 598.8,794.5 609.3,795.5 619.9,797.8 630.5,797.0 641.1,792.0 651.7,785.8 662.2,778.8 672.8,772.5 683.4,767.5 694.0,763.0 704.5,760.5 715.1,759.5 725.7,758.0 736.3,757.0 746.9,757.5 757.4,765.0 768.0,773.0 778.6,780.8 789.2,789.2 799.7,792.0 810.3,788.8 820.9,784.5 831.5,778.8 842.1,775.8 852.6,773.8 863.2,770.8 873.8,768.2 884.4,770.5 895.0,775.0 905.5,782.5 916.1,790.0 926.7,796.8 937.3,800.0 947.8,803.8 958.4,806.2 969.0,806.8 979.6,807.5 990.2,803.8 1000.7,798.8 1011.3,791.2 1021.9,783.8 1032.5,781.2 1043.0,781.2 1053.6,785.8 1064.2,792.5 1074.8,798.2 1085.4,799.2 1095.9,797.5 1106.5,794.2 1117.1,791.8 1127.7,787.5 1138.2,782.5 1148.8,780.5 1159.4,785.0 1170.0,787.5 1180.6,791.8 1191.1,794.5 1201.7,795.8 1212.3,796.5 1222.9,798.8 1233.4,798.2 1244.0,796.2 1254.6,790.5 1265.2,783.8" fill="none" stroke="#f01414" stroke-width="1.25" stroke-linejoin="round"/>
<text x="566.5" y="136.5" font-size="19.5" fill="#1c3a5e" textLength="204.5" lengthAdjust="spacingAndGlyphs" font-weight="300">黃金期 (GFY) 布林通道</text>
<text x="943.5" y="140.5" font-size="15" fill="#4c709a" textLength="124" lengthAdjust="spacingAndGlyphs" font-weight="300">嗨投資 histock.tw</text>
<text x="523.6" y="162.6" font-size="14.8" fill="#000" textLength="86" lengthAdjust="spacingAndGlyphs">2019/09/25</text>
<text x="619.5" y="162.6" font-size="15" fill="#e25a10" textLength="15" lengthAdjust="spacingAndGlyphs" font-weight="700">開</text>
<text x="643" y="162.6" font-size="14.8" fill="#000" textLength="48.8" lengthAdjust="spacingAndGlyphs">1503.7</text>
<text x="707" y="162.6" font-size="15" fill="#e25a10" textLength="15" lengthAdjust="spacingAndGlyphs" font-weight="700">高</text>
<text x="730.5" y="162.6" font-size="14.8" fill="#000" textLength="48.8" lengthAdjust="spacingAndGlyphs">1509.4</text>
<text x="794.5" y="162.6" font-size="15" fill="#e25a10" textLength="15" lengthAdjust="spacingAndGlyphs" font-weight="700">低</text>
<text x="818" y="162.6" font-size="14.8" fill="#000" textLength="48.8" lengthAdjust="spacingAndGlyphs">1503.1</text>
<text x="882" y="162.6" font-size="15" fill="#e25a10" textLength="15" lengthAdjust="spacingAndGlyphs" font-weight="700">收</text>
<text x="905.6" y="162.6" font-size="14.8" fill="#000" textLength="48.8" lengthAdjust="spacingAndGlyphs">1508.4</text>
<text x="964.8" y="162.6" font-size="14.8" fill="#0000ff" textLength="97.8" lengthAdjust="spacingAndGlyphs">上漲 1,549.27</text>
<text x="1070.6" y="162.6" font-size="14.8" fill="#0000ff" textLength="98.2" lengthAdjust="spacingAndGlyphs">平盤 1,512.47</text>
<text x="1176.7" y="162.6" font-size="14.8" fill="#0000ff" textLength="98.6" lengthAdjust="spacingAndGlyphs">下跌 1,475.66</text>
<text x="-36.5" y="616.6" font-size="15.5" fill="#3c6899" textLength="46.5" lengthAdjust="spacingAndGlyphs" font-weight="700">成交量</text>
<text x="956" y="612.6" font-size="16" fill="#e25a10" textLength="48" lengthAdjust="spacingAndGlyphs" font-weight="700">成交量</text>
<text x="1031" y="612.6" font-size="15.6" fill="#000">0</text>
<text x="1097" y="612.6" font-size="14.8" fill="#ff0000" textLength="47" lengthAdjust="spacingAndGlyphs">MV5 0</text>
<text x="1198" y="612.6" font-size="14.8" fill="#0000ff" textLength="57" lengthAdjust="spacingAndGlyphs">MV20 0</text>
<text x="1088.7" y="763" font-size="14.8" fill="#0000ff" textLength="63" lengthAdjust="spacingAndGlyphs">K9 63.10</text>
<text x="1193.7" y="763" font-size="14.8" fill="#ff0000" textLength="65" lengthAdjust="spacingAndGlyphs">D9 57.30</text>
<text x="-4.5" y="132.5" font-size="15" fill="#000">m</text>
<text x="22.5" y="132.5" font-size="15" fill="#000" textLength="23" lengthAdjust="spacingAndGlyphs">6m</text>
<text x="63.5" y="132.5" font-size="15" fill="#000" textLength="17" lengthAdjust="spacingAndGlyphs">1y</text>
<text x="98" y="132.5" font-size="15" fill="#000" textLength="21.5" lengthAdjust="spacingAndGlyphs">All</text>
<text x="1311" y="309" font-size="21" fill="#36404c" font-weight="300"><tspan letter-spacing="0.35">T495</tspan>雙<tspan letter-spacing="0.35">11</tspan>閃購</text>
<text x="1311" y="334.7" font-size="21" fill="#36404c" font-weight="300">購免<tspan letter-spacing="0.2">2</tspan>萬 享<tspan letter-spacing="0.2">4</tspan>折</text>
<text x="1311" y="360.3" font-size="21" fill="#36404c" font-weight="300">折升級</text>
<text x="1375.3" y="360.3" font-size="21" fill="#36404c" textLength="37.6" lengthAdjust="spacingAndGlyphs">CPU</text>
<text x="1311" y="407" font-size="13.5" fill="#5c5c5c" textLength="43.3" lengthAdjust="spacingAndGlyphs">Lenovo</text>
<text x="1355.3" y="407" font-size="13.5" fill="#5c5c5c" font-weight="300">官網旗艦店</text>
<text x="1311" y="491.4" font-size="18" fill="#85888b" font-weight="300">雙<tspan letter-spacing="0.55">11</tspan>搶先購》</text>
<text x="1311" y="516.4499999999999" font-size="18" fill="#85888b" font-weight="300"><tspan letter-spacing="0.55">T495</tspan>限時爆殺</text>
<text x="1311" y="541.5" font-size="18" fill="#85888b" font-weight="300">只要<tspan letter-spacing="0.55">$19999</tspan></text>
<text x="1311" y="566.55" font-size="18" fill="#85888b" font-weight="300">享<tspan letter-spacing="0.55">4</tspan>折升級<tspan letter-spacing="0.55">4</tspan></text>
<text x="1311" y="591.6" font-size="18" fill="#85888b" font-weight="300">核心處理器，</text>
<text x="1311" y="616.65" font-size="18" fill="#85888b" font-weight="300">價格優惠效能</text>
<text x="1311" y="641.7" font-size="18" fill="#85888b" font-weight="300">不減，舊換新</text>
<text x="1311" y="666.75" font-size="18" fill="#85888b" font-weight="300">趁現在！</text>
  </svg>
</div>
<div id="vscroll" class="abs"></div>
<div id="vthumb" class="abs"></div>
<div id="hscroll" class="abs"></div>
<div id="hthumb" class="abs"></div>
<div id="status" class="abs"></div>
<div id="tabbar" class="abs"></div>
<div id="tab" class="abs"></div>
<div id="tabline" class="abs"></div>
<div id="nav" class="abs"></div>
<div id="navborder" class="abs"></div>
<div id="urlbar" class="abs"></div>
<div id="taskbar" class="abs"></div>
<div id="fftile" class="abs"></div>
<div id="ffline" class="abs"></div>
<svg class="abs" style="left:0;top:0" width="1440" height="900" viewBox="0 0 1440 900">
<defs><linearGradient id="tfade" gradientUnits="userSpaceOnUse" x1="218" y1="0" x2="247" y2="0"><stop offset="0" stop-color="#0c0c0d"/><stop offset="1" stop-color="#0c0c0d" stop-opacity="0"/></linearGradient><linearGradient id="shg" x1="0" y1="0" x2="1" y2="1"><stop offset="0" stop-color="#8a3ff0"/><stop offset="1" stop-color="#1b74e8"/></linearGradient><radialGradient id="ffg" cx="0.85" cy="0.15" r="1.1"><stop offset="0" stop-color="#fff05a"/><stop offset="0.4" stop-color="#ffb02a"/><stop offset="0.75" stop-color="#ff5a2b"/><stop offset="1" stop-color="#e8204a"/></radialGradient><radialGradient id="ffb" cx="0.5" cy="0.3" r="0.8"><stop offset="0" stop-color="#12b5ec"/><stop offset="1" stop-color="#2340c8"/></radialGradient></defs>
<circle cx="15" cy="21" r="2.6" fill="#0a84ff"/>
<text x="40" y="26.2" font-size="14.6" fill="url(#tfade)" textLength="206.5" lengthAdjust="spacingAndGlyphs">黃金期(GFY) - 布林通道(Bolling</text>
<path d="M254 16 L265 27 M265 16 L254 27" stroke="#3f3f42" stroke-width="1.7" fill="none"/>
<path d="M292.3 20 H309.7 M301 11.2 V28.8" stroke="#bdbecb" stroke-width="2.2" fill="none"/>
<path d="M1291.8 19.5 H1304.2" stroke="#e6e6ea" stroke-width="1.2"/>
<path d="M1349.6 17.1 H1357.8 V25.4 H1349.6 Z M1352.4 17.1 V14.5 H1360.6 V22.8 H1357.8" stroke="#e6e6ea" stroke-width="1.2" fill="none"/>
<path d="M1405.3 14 L1418 26.3 M1418 14 L1405.3 26.3" stroke="#e6e6ea" stroke-width="1.25" fill="none"/>
<circle cx="24.9" cy="66.4" r="20.6" fill="#fdfdfd" stroke="#b1b1b4" stroke-width="1"/>
<path d="M33.8 66.3 H17 M24.4 58.9 L16.6 66.3 L24.4 73.7" stroke="#454548" stroke-width="2.8" fill="none" stroke-linecap="round" stroke-linejoin="round"/>
<path d="M57.4 66.3 H74.2 M67 58.9 L74.8 66.3 L67 73.7" stroke="#b4b4b7" stroke-width="2.8" fill="none" stroke-linecap="round" stroke-linejoin="round"/>
<path d="M98.8 58.8 L113.5 73.3 M113.5 58.8 L98.8 73.3" stroke="#454548" stroke-width="2.7" fill="none" stroke-linecap="round"/>
<path d="M137.6 65.4 L146 57.3 L154.4 65.4 M140.2 64.6 V74 H151.8 V64.6" stroke="#454548" stroke-width="2.8" fill="none" stroke-linecap="round" stroke-linejoin="round"/>
<rect x="143.7" y="66.6" width="4.8" height="7.6" fill="#454548"/><rect x="145.6" y="69.4" width="1.1" height="1.6" fill="#f9f9fa"/>
<path d="M299.8 57.8 L306.6 60 V66 C306.6 70.5 303.5 73.3 299.8 74.8 C296.1 73.3 293 70.5 293 66 V60 Z" fill="none" stroke="url(#shg)" stroke-width="2.2" stroke-linejoin="round"/>
<path d="M300.2 61.4 L296.8 62.5 V66 C296.8 68 298.2 69.4 300.2 70.3 Z" fill="#5a3fe0"/>
<rect x="318" y="53" width="1" height="26" fill="#d8d8da"/>
<rect x="328.3" y="64.6" width="15.4" height="10" rx="1.6" fill="#626264"/>
<path d="M331.6 65.5 V62.5 A4.4 4.6 0 0 1 340.4 62.5 V65.5" stroke="#626264" stroke-width="2.3" fill="none"/>
<text x="356.6" y="73" font-size="18.5" fill="#7a7a7c" textLength="59.4" lengthAdjust="spacingAndGlyphs">https://</text>
<text x="416.7" y="73" font-size="18.5" fill="#0c0c0d" textLength="80.5" lengthAdjust="spacingAndGlyphs">histock.tw</text>
<text x="498.1" y="73" font-size="18.5" fill="#7a7a7c" textLength="277" lengthAdjust="spacingAndGlyphs">/stock/tcharti.aspx?no=GFY&amp;m=b</text>
<circle cx="1013.5" cy="65.7" r="2.5" fill="#5e5e60"/>
<circle cx="1021" cy="65.7" r="2.5" fill="#5e5e60"/>
<circle cx="1028.5" cy="65.7" r="2.5" fill="#5e5e60"/>
<path d="M1047.5 60.5 Q1047.5 58.5 1049.5 58.5 H1062.5 Q1064.5 58.5 1064.5 60.5 V65 C1064.5 70.2 1060.6 73.2 1056 73.2 C1051.4 73.2 1047.5 70.2 1047.5 65 Z" fill="none" stroke="#606062" stroke-width="2.4"/>
<path d="M1052.2 64.4 L1056 67.8 L1059.8 64.4" fill="none" stroke="#5a5a5c" stroke-width="2.5" stroke-linecap="round" stroke-linejoin="round"/>
<polygon points="1091.00,57.70 1093.82,63.12 1099.84,64.13 1095.57,68.48 1096.47,74.52 1091.00,71.80 1085.53,74.52 1086.43,68.48 1082.16,64.13 1088.18,63.12" fill="#0a84ff" stroke="#0a84ff" stroke-width="2.8" stroke-linejoin="round"/>
<polygon points="1245.10,57.30 1246.98,61.41 1251.47,61.93 1248.14,64.99 1249.04,69.42 1245.10,67.20 1241.16,69.42 1242.06,64.99 1238.73,61.93 1243.22,61.41" fill="none" stroke="#3f3f42" stroke-width="2" stroke-linejoin="round"/>
<path d="M1237.2 71.2 V74.2 H1253.2 V71.2" fill="none" stroke="#3f3f42" stroke-width="2.5" stroke-linecap="round" stroke-linejoin="round"/>
<path d="M1277.3 58.7 V73.6 M1281.3 58.7 V73.6 M1285.3 58.7 V73.6 M1288.7 59.8 L1294 73.6" stroke="#3f3f42" stroke-width="2.3" fill="none" stroke-linecap="round"/>
<rect x="1316.5" y="58.7" width="16.8" height="14.4" rx="2.2" fill="none" stroke="#3f3f42" stroke-width="2.3"/>
<path d="M1324.1 58.7 V73.1" stroke="#3f3f42" stroke-width="2"/><path d="M1319 61.5 H1322.2 M1319 63.8 H1322.2 M1319 66.2 H1322.2" stroke="#3f3f42" stroke-width="1.1"/>
<circle cx="1364.9" cy="65.8" r="8.1" fill="none" stroke="#3f3f42" stroke-width="1.5"/>
<circle cx="1364.9" cy="63.3" r="3.2" fill="#3f3f42"/>
<path d="M1359.3 68.2 Q1364.9 70.8 1370.5 68.2 Q1369.6 73.1 1364.9 73.1 Q1360.2 73.1 1359.3 68.2 Z" fill="#3f3f42"/>
<rect x="1389" y="45" width="1" height="41" fill="#d8d8da"/>
<path d="M1409.6 59.7 H1422.8 M1409.6 66.1 H1422.8 M1409.6 72.5 H1422.8" stroke="#3f3f42" stroke-width="2.5" stroke-linecap="round"/>
<circle cx="25.2" cy="104" r="9.3" fill="url(#ffg)"/><circle cx="26.32" cy="102.33" r="5.58" fill="url(#ffb)"/><path d="M16.09 103.07 C16.83 97.49 20.55 96.09 22.41 98.89 C24.27 99.35 25.66 101.21 26.13 102.88 C23.34 102.61 22.41 104.47 24.08 105.67 C25.66 105.86 27.52 105.12 28.18 105.86 C26.59 108.65 23.80 109.11 21.95 107.25 C23.34 111.44 29.85 111.44 32.17 106.79 C30.78 113.30 21.48 115.16 17.29 108.65 Z" fill="#ff6a2a"/><path d="M27.52 93.58 C30.78 95.63 34.50 100.28 34.31 105.86 C33.57 103.07 32.17 101.21 30.32 100.28 C29.85 97.49 27.99 96.09 27.52 93.58 Z" fill="#ffe24a"/>
<text x="40.6" y="109" font-size="14.3" fill="#0c0c0d" textLength="58.6" lengthAdjust="spacingAndGlyphs">新手上路</text>
<text x="5.6" y="844.3" font-size="14.2" fill="#2a2a2e">從</text>
<text x="24.2" y="844.3" font-size="14.6" fill="#2a2a2e" textLength="230.5" lengthAdjust="spacingAndGlyphs">pagead2.googlesyndication.com</text>
<text x="259.8" y="844.3" font-size="14.2" fill="#2a2a2e" textLength="69.8" lengthAdjust="spacingAndGlyphs">接收資料...</text>
<path d="M1425.4 133.4 L1429.5 129.2 L1433.6 133.4" stroke="#505050" stroke-width="2.2" fill="none"/>
<path d="M1425.4 816 L1429.5 820.2 L1433.6 816" stroke="#505050" stroke-width="2.2" fill="none"/>
<path d="M1406.4 835.6 L1410.6 839.7 L1406.4 843.8" stroke="#505050" stroke-width="2.2" fill="none"/>
<path d="M20 867.3 L28.2 866.1 V874.1 H20 Z M29.5 865.9 L40.2 864.6 V874.1 H29.5 Z M20 875.1 H28.2 V883.1 L20 881.9 Z M29.5 875.1 H40.2 V885 L29.5 883.4 Z" fill="#ffffff"/>
<circle cx="93.1" cy="871.9" r="6.6" fill="none" stroke="#ffffff" stroke-width="1.4"/><path d="M88.3 876.8 L80.4 884.6" stroke="#ffffff" stroke-width="1.6"/>
<path d="M140.4 865.2 V868 H152.8 V865.2 M140.4 883.8 V880.8 H152.8 V883.8" stroke="#ffffff" stroke-width="1.25" fill="none"/>
<rect x="141" y="870.3" width="11.2" height="7.8" fill="none" stroke="#ffffff" stroke-width="1.3"/>
<path d="M158.7 865 V871 M158.7 874 V884" stroke="#ffffff" stroke-width="1.3"/><rect x="157.2" y="870.7" width="3" height="3.6" fill="#ffffff"/>
<path d="M226.3 877.6 L211 877.6 C211.3 881.2 214.6 883.4 218.6 883.4 C221.4 883.4 223.8 882.6 225.6 881.4 L225.6 886.4 C223.4 887.8 220.6 888.7 217.2 888.7 C209.6 888.7 204.4 884 204.4 877.4 C204.4 873 206.8 869.6 210.8 867.6 C206.8 868.4 203.6 870.8 201.9 874 C203 867.2 208.6 862.2 215.4 862.2 C222.4 862.2 226.4 867.6 226.4 874.6 Z M211.2 873 L219.6 873 C219.6 870 218.2 868 215.6 868 C213.2 868 211.6 870 211.2 873 Z" fill="#0f7bd8" fill-rule="evenodd"/>
<path d="M262 864 Q262 862.8 263.2 862.8 H272.6 L275 865.2 H288.6 Q289.8 865.2 289.8 866.4 V885.6 H262 Z" fill="#f7cf5c"/>
<path d="M262 866.6 H289.8 V885.6 H262 Z" fill="#ffe694"/>
<rect x="264.2" y="864" width="5.4" height="1.5" fill="#fff"/>
<path d="M266.9 885.8 V876.4 Q266.9 875 268.3 875 H283.6 Q285 875 285 876.4 V885.8 H280.6 V879.4 H271.2 V885.8 Z" fill="#3aabe8"/>
<path d="M332.2 868 V866 A6.4 5.6 0 0 1 345 866 V868" fill="none" stroke="#e0e0e0" stroke-width="1.1"/><path d="M333.6 868 V866.6 A5 4.4 0 0 1 343.6 866.6 V868" fill="none" stroke="#d0d0d0" stroke-width="1"/>
<path d="M323 866.9 H352.2 V887 Q352.2 889 350.2 889 H325 Q323 889 323 887 Z" fill="#ffffff"/>
<rect x="331.2" y="872.2" width="5.6" height="5.6" fill="#f25022"/><rect x="337.8" y="872.2" width="5.6" height="5.6" fill="#7fba00"/><rect x="331.2" y="878.8" width="5.6" height="5.6" fill="#00a4ef"/><rect x="337.8" y="878.8" width="5.6" height="5.6" fill="#ffb900"/>
<path d="M384.9 870.3 L400.1 862.3 L415.1 870.3 V886 H384.9 Z" fill="#ffffff"/>
<path d="M386.6 870.7 H414 L402.4 876.9 L409.6 882.2 Z" fill="#0b0b0b"/>
<defs><linearGradient id="ff19" gradientUnits="userSpaceOnUse" x1="472" y1="862" x2="453" y2="887"><stop offset="0" stop-color="#fff44f"/><stop offset="0.3" stop-color="#ffbd2e"/><stop offset="0.55" stop-color="#ff7a2a"/><stop offset="0.8" stop-color="#ff3647"/><stop offset="1" stop-color="#e31587"/></linearGradient><linearGradient id="ffgl" x1="0.6" y1="0" x2="0.4" y2="1"><stop offset="0" stop-color="#c034e6"/><stop offset="0.5" stop-color="#8a52f5"/><stop offset="1" stop-color="#4f5fe0"/></linearGradient></defs>
<path d="M466 859.9 C467.4 862 469.8 863.6 471.2 865.6 C471.8 866.4 472.2 867.2 472.4 867.9 C472.8 867 472.8 866.2 472.7 865.6 C475 868.4 476.2 872 476.1 875.6 C476 883 469.8 888.9 462 888.9 C454 888.9 447.7 883 447.8 875.4 C447.8 872.4 448.6 869.6 450 867.4 C450.4 866.2 451.6 864.8 452.9 864.1 C452.8 865.2 453.2 866.2 454 867 C454.6 866.2 455.6 865.4 456.7 865.1 C456.5 866.2 456.8 867.4 457.6 868.4 C458.8 867.6 460.4 867.4 461.6 867.6 C461.4 866.4 461.6 864.8 462.4 863.6 C463.2 862.2 465 861.2 466 859.9 Z" fill="url(#ff19)"/>
<circle cx="461.9" cy="874.7" r="5.9" fill="url(#ffgl)"/>
<path d="M451.6 871.4 C453.6 869.4 457.4 869 459.8 870.6 C460.6 871.2 461.6 871.8 462.4 872.4 C460.8 872.8 458.6 873.2 457.4 874.4 C456 875.8 455.8 877.8 456.4 879.4 C454.4 877.6 453.6 875.2 453.8 872.6 C453 872.4 452.2 872 451.6 871.4 Z" fill="#ffa01e"/>
<path d="M466.4 869.6 C469 871.6 469.6 875.6 468.2 878.6 C466.8 881.4 463.8 883 460.6 882.6 C466 883.6 471.6 879.6 471.4 873.4 C470.4 871.4 468.4 870 466.4 869.6 Z" fill="#ffb52e" opacity="0.75"/>
<circle cx="1077" cy="868.7" r="3.1" fill="none" stroke="#f2f2f2" stroke-width="1.3"/><path d="M1074.2 874.6 Q1077 871.6 1079.6 873 Q1081.6 874.2 1081.8 876.6" fill="none" stroke="#f2f2f2" stroke-width="1.3"/>
<circle cx="1068.8" cy="876.2" r="3.1" fill="none" stroke="#f2f2f2" stroke-width="1.3"/><path d="M1064 884.2 Q1064.4 879.6 1068.8 879.6 Q1073.6 879.6 1074.6 884.2" fill="none" stroke="#f2f2f2" stroke-width="1.3"/>
<path d="M1110.4 879.2 L1118.2 871.2 L1126 879.2" fill="none" stroke="#f2f2f2" stroke-width="1.5"/>
<path d="M1142 881 Q1137.8 881 1137.8 877.4 Q1137.8 874.4 1141 874 Q1142 869.6 1146.6 869.4 Q1149.6 867.2 1152.4 869.6 Q1156 869.4 1156.6 873.4 Q1158.4 874.6 1158.2 877.4 Q1158 881 1154.4 881 Z" fill="#8d8d8d"/>
<path d="M1142 881 Q1137.8 881 1137.8 877.6 Q1138.4 875 1141.4 874.8 Q1144 872.4 1147.6 874 Q1151 871.6 1154.6 873.6 Q1158.4 874.6 1158.2 877.4 Q1158 881 1154.4 881 Z" fill="#f4f4f4"/>
<rect x="1167.8" y="865" width="20" height="19.6" rx="1.5" fill="#00c300"/>
<ellipse cx="1177.8" cy="873.6" rx="7.4" ry="6" fill="#fff"/><path d="M1175.4 878.6 L1176 882.4 L1180.6 878.8 Z" fill="#fff"/>
<rect x="1202.4" y="868.6" width="15" height="10.6" fill="none" stroke="#f2f2f2" stroke-width="1.3"/><path d="M1209.8 879.2 V882.6 M1200.7 882.7 H1214.2" stroke="#f2f2f2" stroke-width="1.3"/>
<rect x="1198.6" y="867" width="4.2" height="5.2" fill="#0b0b0b" stroke="#f2f2f2" stroke-width="1.1"/><path d="M1200.7 872.2 V882.7" stroke="#f2f2f2" stroke-width="1.1"/>
<path d="M1228.8 872.4 H1231.6 L1235.6 868.4 V882.6 L1231.6 878.6 H1228.8 Z" fill="none" stroke="#f2f2f2" stroke-width="1.2" stroke-linejoin="round"/>
<path d="M1238.4 872.6 Q1240.4 875.5 1238.4 878.4 M1241.2 870.2 Q1244.6 875.5 1241.2 880.8 M1244 867.8 Q1248.8 875.5 1244 883.2" fill="none" stroke="#f2f2f2" stroke-width="1.2"/>
<circle cx="1267" cy="875.5" r="9.2" fill="#8a8a8a"/><path d="M1262.6 871.1 L1271.4 879.9 M1271.4 871.1 L1262.6 879.9" stroke="#0b0b0b" stroke-width="2.2"/>
<text x="1327.8" y="869" font-size="14.4" fill="#fff" textLength="71.5" lengthAdjust="spacingAndGlyphs" text-anchor="middle">上午 10:55</text>
<text x="1327.3" y="891.6" font-size="15.4" fill="#fff" textLength="83.6" lengthAdjust="spacingAndGlyphs" text-anchor="middle">2019/10/26</text>
<path d="M1388.8 865.2 H1409.4 V881 H1402.6 L1399.1 884.6 L1395.6 881 H1388.8 Z" fill="#ffffff"/>
<path d="M1392.4 869.6 H1405.8 M1392.4 873 H1405.8 M1392.4 876.4 H1401.4" stroke="#0b0b0b" stroke-width="1.1"/>
<rect x="1434" y="850" width="1" height="50" fill="#5a5a5a"/>
</svg>
</body>
</html>
